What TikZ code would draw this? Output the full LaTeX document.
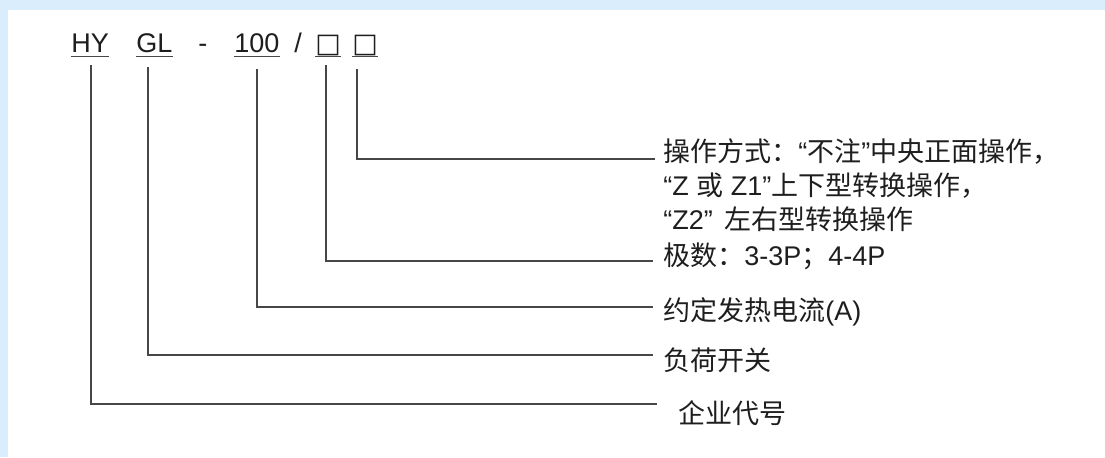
\documentclass[tikz,border=0pt]{standalone}
\usepackage{fontspec}
\setmainfont{Liberation Sans}
\newfontfamily\cjk{Noto Sans CJK SC}
\newfontfamily\symf{DejaVu Sans}
\definecolor{bgblue}{HTML}{DAEDFC}
\definecolor{ln}{HTML}{474747}
\definecolor{tx}{HTML}{1E1E1E}
\begin{document}
\begin{tikzpicture}[x=0.75pt,y=-0.75pt,
  hdr/.style={inner sep=0pt, anchor=base west, font=\fontsize{20.25}{24}\selectfont, text=tx},
  lbl/.style={inner sep=0pt, anchor=base west, font=\fontsize{20.25}{24}\selectfont, text=tx},
  uline/.style={draw=ln, line width=1pt},
  conn/.style={draw=ln, line width=1pt}]
\useasboundingbox (0,0) rectangle (1105,457);
\fill[bgblue] (0,0) rectangle (1105,457);
\fill[white] (8,10) rectangle (1105,457);
% header
\node[hdr] (hy) at (71,52.5) {HY};
\node[hdr] (gl) at (136,52.5) {GL};
\node[hdr] (dash) at (198,52.5) {-};
\node[hdr] (num) at (234,52.5) {100};
\node[hdr] (slash) at (294,52.5) {/};
\node[hdr, font=\symf\fontsize{20.25}{24}\selectfont] (b1) at (315,52.5) {□};
\node[hdr, font=\symf\fontsize{20.25}{24}\selectfont] (b2) at (352,52.5) {□};
\foreach \n in {hy,gl,num,b1,b2}
  \draw[uline] ([yshift=-3pt]\n.base west) -- ([yshift=-3pt]\n.base east);
% labels
\node[lbl] (l1a) at (663,161) {{\cjk 操作方式：}“{\cjk 不注}”{\cjk 中央正面操作，}};
\node[lbl] (l1b) at (663,195) {“Z {\cjk 或} Z1”{\cjk 上下型转换操作，}};
\node[lbl] (l1c) at (663,229) {“Z2” \,{\cjk 左右型转换操作}};
\node[lbl] (l2) at (663,265) {{\cjk 极数：}3-3P{\cjk ；}4-4P};
\node[lbl] (l3) at (663,320) {{\cjk 约定发热电流}(A)};
\node[lbl] (l4) at (663,370) {{\cjk 负荷开关}};
\node[lbl] (l5) at (678,423) {{\cjk 企业代号}};
% connector ends
\coordinate (t1) at (357,69);
\coordinate (t2) at (326,65);
\coordinate (t3) at (257,69);
\coordinate (t4) at (148,67);
\coordinate (t5) at (91,65);
\coordinate (e1) at (655,159);
\coordinate (e2) at (653,261);
\coordinate (e3) at (653,307);
\coordinate (e4) at (653,355);
\coordinate (e5) at (657,404);
\draw[conn] (t1) |- (e1);
\draw[conn] (t2) |- (e2);
\draw[conn] (t3) |- (e3);
\draw[conn] (t4) |- (e4);
\draw[conn] (t5) |- (e5);
\end{tikzpicture}
\end{document}
